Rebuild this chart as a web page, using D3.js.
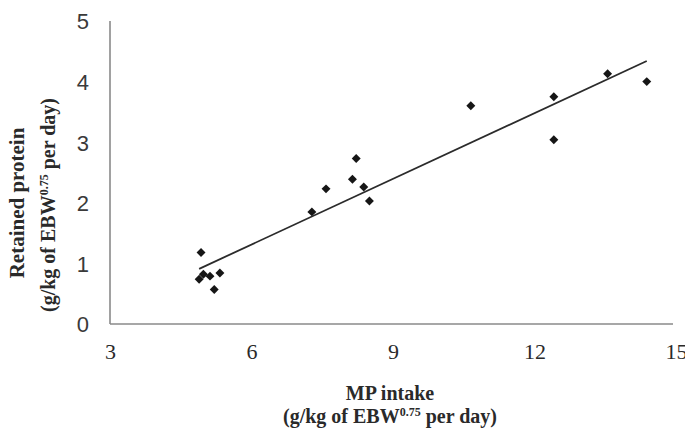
<!DOCTYPE html>
<html>
<head>
<meta charset="utf-8">
<script src="https://cdn.jsdelivr.net/npm/d3@7"></script>
<style>
  body { margin: 0; background: #fff; }
  svg { display: block; }
</style>
</head>
<body>
<script>
// MP intake (x) and retained protein (y)
var mpIntake = [4.93, 4.89, 4.98, 5.12, 5.33, 5.21, 7.28, 7.58, 8.14, 8.22, 8.38, 8.50, 10.65, 12.41, 12.41, 13.55, 14.38];
var retained = [1.18, 0.74, 0.82, 0.79, 0.84, 0.57, 1.85, 2.23, 2.39, 2.73, 2.26, 2.03, 3.60, 3.75, 3.04, 4.13, 4.00];

// fitted line end points
var trendX = [4.89, 14.38];
var trendY = [0.91, 4.34];

var xTicks = [3, 6, 9, 12, 15];
var yTicks = [0, 1, 2, 3, 4, 5];

var width = 685, height = 429;

var svg = d3.select("body").append("svg")
    .attr("width", width)
    .attr("height", height);

// SCALES
var x = d3.scaleLinear().domain([3, 15]).range([110, 676]);
var y = d3.scaleLinear().domain([0, 5]).range([324, 21]);

// AXES
var xAxis = d3.axisBottom(x).tickValues(xTicks).tickFormat(d3.format("d")).tickSize(0).tickPadding(0);
var yAxis = d3.axisLeft(y).tickValues(yTicks).tickFormat(d3.format("d")).tickSize(0).tickPadding(0);

var gx = svg.append("g")
    .attr("transform", "translate(0," + y(0) + ")")
    .call(xAxis);
gx.select(".domain").attr("stroke", "#8a8a8a").attr("stroke-width", 1.6)
    .attr("d", "M" + x(3) + ",0H" + (x(15) - 3));
gx.selectAll("text")
    .attr("y", 35)
    .attr("dy", 0)
    .style("font-family", "'Liberation Serif', 'Times New Roman', serif")
    .style("font-size", "22px")
    .attr("fill", "#2a2a2a");

var gy = svg.append("g")
    .attr("transform", "translate(" + x(3) + ",0)")
    .call(yAxis);
gy.select(".domain").attr("stroke", "#8a8a8a").attr("stroke-width", 1.6)
    .attr("d", "M0," + y(0) + "V" + y(5));
gy.selectAll("text")
    .attr("x", -21)
    .attr("dy", "0.36em")
    .style("font-family", "'Liberation Sans', Arial, sans-serif")
    .style("font-size", "22px")
    .attr("fill", "#3a3a3a");

// TREND LINE
var line = d3.line()
    .x(function(d) { return x(d[0]); })
    .y(function(d) { return y(d[1]); });

svg.append("path")
    .datum(d3.zip(trendX, trendY))
    .attr("d", line)
    .attr("fill", "none")
    .attr("stroke", "#2b2b2b")
    .attr("stroke-width", 1.8);

// POINTS (diamonds)
var diamond = d3.symbol().type(d3.symbolSquare).size(40);

svg.selectAll(".pt")
    .data(d3.zip(mpIntake, retained))
    .enter().append("path")
    .attr("class", "pt")
    .attr("d", diamond)
    .attr("transform", function(d) {
        return "translate(" + x(d[0]) + "," + y(d[1]) + ") rotate(45)";
    })
    .attr("fill", "#161616");

// AXIS TITLES
var serif = "'Liberation Serif', 'Times New Roman', serif";

svg.append("text")
    .attr("x", 390).attr("y", 400)
    .attr("text-anchor", "middle")
    .style("font-family", serif).style("font-weight", "bold").style("font-size", "20px")
    .attr("fill", "#2a2a2a")
    .text("MP intake");

var xt2 = svg.append("text")
    .attr("x", 390).attr("y", 423)
    .attr("text-anchor", "middle")
    .style("font-family", serif).style("font-weight", "bold").style("font-size", "20px")
    .attr("fill", "#2a2a2a");
xt2.append("tspan").text("(g/kg of EBW");
xt2.append("tspan").attr("dy", -7).style("font-size", "12px").text("0.75");
xt2.append("tspan").attr("dy", 7).text(" per day)");

svg.append("text")
    .attr("transform", "translate(24,203) rotate(-90)")
    .attr("text-anchor", "middle")
    .style("font-family", serif).style("font-weight", "bold").style("font-size", "21px")
    .attr("fill", "#2a2a2a")
    .text("Retained protein");

var yt2 = svg.append("text")
    .attr("transform", "translate(55,205) rotate(-90)")
    .attr("text-anchor", "middle")
    .style("font-family", serif).style("font-weight", "bold").style("font-size", "20px")
    .attr("fill", "#2a2a2a");
yt2.append("tspan").text("(g/kg of EBW");
yt2.append("tspan").attr("dy", -7).style("font-size", "12px").text("0.75");
yt2.append("tspan").attr("dy", 7).text(" per day)");
</script>
</body>
</html>
